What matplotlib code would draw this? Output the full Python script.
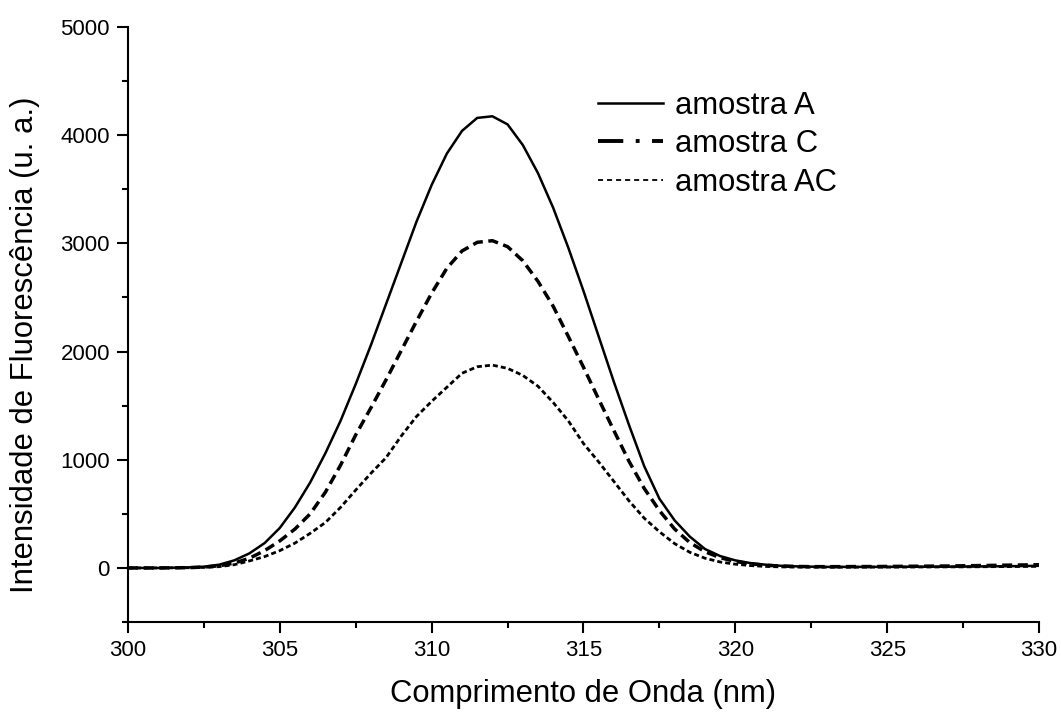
import numpy as np
import matplotlib
matplotlib.use("Agg")
import matplotlib.pyplot as plt
from matplotlib.lines import Line2D
from matplotlib.ticker import MultipleLocator

plt.rcParams["font.family"] = ["Liberation Sans", "DejaVu Sans"]

# ------------------------------------------------------------
# data
# ------------------------------------------------------------
wavelength = np.arange(300.0, 330.01, 0.5)

amostra_a = [
    0, 0, 0, 2, 5, 12, 30, 70, 135, 230,
    370, 560, 790, 1060, 1360, 1700, 2060, 2440, 2820, 3200,
    3540, 3830, 4040, 4160, 4175, 4100, 3910, 3650, 3330, 2960,
    2560, 2140, 1720, 1320, 940, 640, 440, 290, 175, 110,
    70, 45, 30, 20, 15, 12, 10, 10, 10, 10,
    10, 11, 11, 12, 12, 13, 14, 15, 16, 18,
    20,
]

amostra_c = [
    0, 0, 0, 1, 3, 8, 20, 45, 90, 160,
    250, 360, 500, 700, 950, 1230, 1480, 1740, 2010, 2280,
    2540, 2770, 2930, 3010, 3025, 2970, 2840, 2650, 2420, 2140,
    1855, 1560, 1270, 985, 735, 530, 360, 235, 150, 95,
    60, 38, 25, 18, 14, 12, 12, 12, 13, 13,
    14, 15, 16, 17, 18, 20, 22, 24, 26, 28,
    30,
]

amostra_ac = [
    0, 0, 0, 1, 2, 5, 12, 30, 65, 105,
    160, 230, 320, 420, 560, 720, 875, 1020, 1220, 1400,
    1540, 1670, 1800, 1860, 1875, 1845, 1780, 1680, 1530, 1360,
    1150, 980, 800, 620, 460, 335, 225, 145, 90, 55,
    35, 22, 14, 10, 8, 7, 7, 7, 7, 8,
    8, 8, 9, 9, 10, 10, 11, 12, 13, 14,
    15,
]

labels = ["amostra A", "amostra C", "amostra AC"]

# ------------------------------------------------------------
# figure
# ------------------------------------------------------------
fig = plt.figure(figsize=(10.61, 7.15), dpi=100)
ax = fig.add_axes([0.1206, 0.130, 0.8587, 0.8322])

ax.plot(wavelength, amostra_a, color="black", lw=1.8, linestyle="-")
ax.plot(wavelength, amostra_c, color="black", lw=2.5, linestyle=(0, (2.9, 1.6)))
ax.plot(wavelength, amostra_ac, color="black", lw=2.0, linestyle=(0, (1.8, 1.1)))

ax.set_xlim(300, 330)
ax.set_ylim(-500, 5000)
ax.xaxis.set_major_locator(MultipleLocator(5))
ax.xaxis.set_minor_locator(MultipleLocator(2.5))
ax.yaxis.set_major_locator(MultipleLocator(1000))
ax.yaxis.set_minor_locator(MultipleLocator(500))

for side in ["top", "right"]:
    ax.spines[side].set_visible(False)
for side in ["left", "bottom"]:
    ax.spines[side].set_linewidth(1.5)

ax.tick_params(which="major", direction="out", length=8, width=1.5,
               labelsize=16, pad=5)
ax.tick_params(which="minor", direction="out", length=4, width=1.5)

ax.set_xlabel("Comprimento de Onda (nm)", fontsize=22.3, labelpad=13)
ax.set_ylabel("Intensidade de Fluorescência (u. a.)", fontsize=22.3)
ax.yaxis.set_label_coords(-0.097, 0.466)

# legend (proxy handles: C uses dash-dot in the key)
handles = [
    Line2D([], [], color="black", lw=1.8, linestyle="-"),
    Line2D([], [], color="black", lw=2.8, linestyle=(0, (6.5, 3.2, 1.0, 3.2))),
    Line2D([], [], color="black", lw=1.3, linestyle=(0, (2.8, 2.2))),
]
ax.legend(handles, labels, loc="upper left",
          bbox_to_anchor=(0.5636, 0.873), bbox_transform=fig.transFigure,
          frameon=False, fontsize=22.3, handlelength=2.1, handletextpad=0.4,
          labelspacing=0.27, borderpad=0, borderaxespad=0)

fig.savefig("out.png", dpi=100)
